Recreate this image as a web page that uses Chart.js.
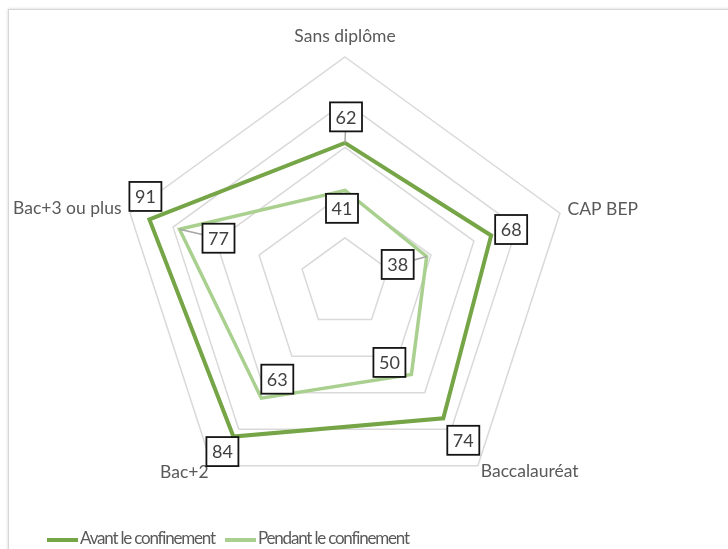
<!DOCTYPE html>
<html>
<head>
<meta charset="utf-8">
<script src="https://cdn.jsdelivr.net/npm/chart.js@4.4.1/dist/chart.umd.min.js"></script>
<style>
  html, body { margin: 0; padding: 0; background: #fff; }
  #wrap { position: relative; width: 728px; height: 549px; overflow: hidden; }
  #frame { position: absolute; left: 8px; top: 9px; width: 760px; height: 600px;
           border: 1px solid #d6d6d6; box-shadow: 0 0 3px rgba(0,0,0,0.18); }
  canvas { position: absolute; left: 0; top: 0; }
</style>
</head>
<body>
<div id="wrap"><div id="frame"></div><canvas id="radar" width="728" height="549"></canvas></div>
<script>
const categories = ['Sans diplôme', 'CAP BEP', 'Baccalauréat', 'Bac+2', 'Bac+3 ou plus'];
const avantValues = [62, 68, 74, 84, 91];
const pendantValues = [41, 38, 50, 63, 77];
const seriesNames = ['Avant le confinement', 'Pendant le confinement'];

// where each value box sits relative to its point (px), and which ones get a leader line
const boxOffsets = [
  [[1, -26], [20, -6], [20, 22], [-11, 15], [-4, -23]],
  [[-3, 18], [-29, 8], [-22, -12], [16, -19], [39, 9]]
];
const leaders = [[true, false, false, false, false], [false, true, false, false, true]];
const labelPadding = [18.5, 8, 5, 6, 9];

const valueBoxes = {
  id: 'valueBoxes',
  afterDatasetsDraw(chart) {
    const ctx = chart.ctx;
    ctx.save();
    ctx.font = '18px Lato';
    ctx.textAlign = 'center';
    ctx.textBaseline = 'middle';
    chart.data.datasets.forEach((ds, d) => {
      chart.getDatasetMeta(d).data.forEach((pt, i) => {
        const bx = pt.x + boxOffsets[d][i][0];
        const by = pt.y + boxOffsets[d][i][1];
        if (leaders[d][i]) {
          ctx.strokeStyle = '#a6a6a6';
          ctx.lineWidth = 1.5;
          ctx.beginPath();
          ctx.moveTo(pt.x, pt.y);
          ctx.lineTo(bx, by);
          ctx.stroke();
        }
        ctx.fillStyle = '#fff';
        ctx.fillRect(bx - 16, by - 14.5, 32, 29);
        ctx.strokeStyle = '#141414';
        ctx.lineWidth = 1.8;
        ctx.strokeRect(bx - 16, by - 14.5, 32, 29);
        ctx.fillStyle = '#404040';
        ctx.fillText(ds.data[i], bx, by + 1);
      });
    });
    ctx.restore();
  }
};

const bottomLegend = {
  id: 'bottomLegend',
  afterDraw(chart) {
    const ctx = chart.ctx;
    const xs = [47, 225];
    const y = 539;
    ctx.save();
    chart.data.datasets.forEach((ds, d) => {
      ctx.strokeStyle = ds.borderColor;
      ctx.lineWidth = 4;
      ctx.beginPath();
      ctx.moveTo(xs[d], y + 1);
      ctx.lineTo(xs[d] + 31, y + 1);
      ctx.stroke();
      ctx.fillStyle = '#595959';
      ctx.font = '17px Lato';
      ctx.letterSpacing = '-1.2px';
      ctx.textAlign = 'left';
      ctx.textBaseline = 'middle';
      ctx.fillText(ds.label, xs[d] + 33, y);
    });
    ctx.restore();
  }
};

new Chart(document.getElementById('radar'), {
  type: 'radar',
  data: {
    labels: categories,
    datasets: [
      { label: seriesNames[0], data: avantValues, borderColor: '#75A546', borderWidth: 4, backgroundColor: 'transparent' },
      { label: seriesNames[1], data: pendantValues, borderColor: '#A9D08E', borderWidth: 3.5, backgroundColor: 'transparent' }
    ]
  },
  options: {
    responsive: false,
    animation: false,
    devicePixelRatio: 1,
    layout: { padding: { top: 24, bottom: 29, left: 0, right: 52 } },
    elements: {
      point: { radius: 0, hoverRadius: 0 },
      line: { tension: 0, fill: false, borderJoinStyle: 'miter' }
    },
    plugins: { legend: { display: false }, tooltip: { enabled: false } },
    scales: {
      r: {
        min: 0,
        max: 100,
        ticks: { stepSize: 20, display: false },
        angleLines: { display: false },
        grid: { color: '#D9D9D9', lineWidth: 1.5 },
        pointLabels: {
          color: '#595959',
          font: { family: 'Lato', size: 17.5, lineHeight: 0.2 },
          padding: ctx => labelPadding[ctx.index]
        }
      }
    }
  },
  plugins: [valueBoxes, bottomLegend]
});
</script>
</body>
</html>
